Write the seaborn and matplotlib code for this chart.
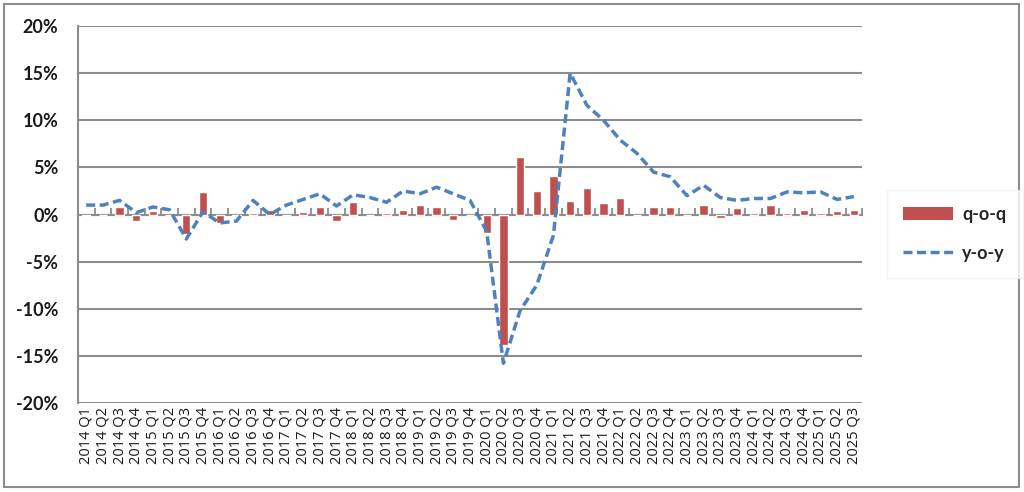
import numpy as np
import pandas as pd
import seaborn as sns
import matplotlib.pyplot as plt
from matplotlib.patches import Rectangle, Patch
from matplotlib.lines import Line2D
from matplotlib.ticker import FixedLocator, PercentFormatter

# quarters 2014 Q1 .. 2025 Q3
quarters = [f"{y} Q{q}" for y in range(2014, 2026) for q in range(1, 5)][:47]

# quarter-on-quarter change, %
qoq = [-0.2, 0.0, 0.8, -0.7, 0.4, -0.1, -2.1, 2.4, -0.9, -0.2, 0.2, 0.5,
       0.0, 0.3, 0.8, -0.7, 1.3, 0.0, 0.2, 0.5, 1.0, 0.8, -0.6, -0.1,
       -2.0, -13.8, 6.1, 2.5, 4.1, 1.4, 2.8, 1.2, 1.8, 0.0, 0.8, 0.8,
       0.0, 1.0, -0.4, 0.7, 0.2, 1.0, 0.2, 0.5, 0.2, 0.4, 0.5]

# year-on-year change, %
yoy = [1.0, 1.0, 1.5, 0.2, 0.8, 0.5, -2.6, 0.3, -0.9, -0.7, 1.5, 0.0,
       1.0, 1.6, 2.2, 0.9, 2.1, 1.8, 1.3, 2.5, 2.2, 2.9, 2.2, 1.5,
       -1.8, -15.8, -10.2, -7.5, -2.2, 15.0, 11.6, 10.0, 7.9, 6.5, 4.5, 4.0,
       2.0, 3.1, 1.8, 1.5, 1.7, 1.7, 2.4, 2.3, 2.4, 1.6, 1.9]

df = pd.DataFrame({"quarter": quarters, "qoq": qoq, "yoy": yoy})

sns.set_theme(style="white")
plt.rcParams["font.family"] = ["Lato", "DejaVu Sans"]
plt.rcParams["axes.unicode_minus"] = False

bar_color = "#C0504D"
line_color = "#4F81BD"
grid_color = "#8C8C8C"
dash = (2.6, 1.3)

fig = plt.figure(figsize=(10.24, 4.92), dpi=100)
ax = fig.add_axes([0.076, 0.181, 0.766, 0.766])

# horizontal grid
for v in range(-20, 25, 5):
    ax.axhline(v, color=grid_color, lw=1.5, zorder=0)

sns.barplot(data=df, x="quarter", y="qoq", color=bar_color, width=0.5,
            saturation=1, ax=ax, zorder=2)
ax.plot(np.arange(len(df)), df["yoy"], color=line_color, lw=2.5,
        dashes=dash, zorder=3)

ax.set_xlim(-0.5, len(df) - 0.5)
ax.set_ylim(-20, 20)
ax.set_yticks(range(-20, 25, 5))
ax.yaxis.set_major_formatter(PercentFormatter(decimals=0))
ax.set_xlabel("")
ax.set_ylabel("")

for s in ["top", "right", "bottom"]:
    ax.spines[s].set_visible(False)
ax.spines["left"].set_color(grid_color)
ax.spines["left"].set_linewidth(1.5)

ax.tick_params(axis="y", length=0, pad=14, labelsize=13)
for t in ax.get_yticklabels():
    t.set_fontweight("bold")
    t.set_color("#1a1a1a")
ax.tick_params(axis="x", length=0, pad=3, labelsize=10.5, labelrotation=90,
               labelcolor="#1a1a1a")
for t in ax.get_xticklabels():
    t.set_family(["Open Sans", "DejaVu Sans"])

# zero axis with tick marks between categories
zero_ax = ax.secondary_xaxis(0.5)
zero_ax.xaxis.set_major_locator(FixedLocator(np.arange(len(df) + 1) - 0.5))
zero_ax.tick_params(axis="x", which="both", length=5, width=1.3,
                    color=grid_color, labelbottom=False, labeltop=False,
                    direction="out")
for sp in zero_ax.spines.values():
    sp.set_color(grid_color)
    sp.set_linewidth(1.5)

# legend
handles = [Patch(facecolor=bar_color, edgecolor="none"),
           Line2D([], [], color=line_color, lw=2.5, dashes=dash)]
leg = fig.legend(handles, ["q-o-q", "y-o-y"], loc="center left",
                 bbox_to_anchor=(0.857, 0.525), frameon=True, fancybox=False,
                 handlelength=2.8, handleheight=0.8, handletextpad=0.5,
                 labelspacing=1.2, borderpad=0.9,
                 prop={"weight": "bold", "size": 13})
leg.get_frame().set_edgecolor("#f0f0f0")
leg.get_frame().set_linewidth(1.0)

# outer chart border
fig.patches.append(Rectangle((0.004, 0.01), 0.991, 0.982,
                             transform=fig.transFigure, fill=False,
                             edgecolor="#8C8C8C", lw=1.5))

fig.savefig("out.png", dpi=100)
